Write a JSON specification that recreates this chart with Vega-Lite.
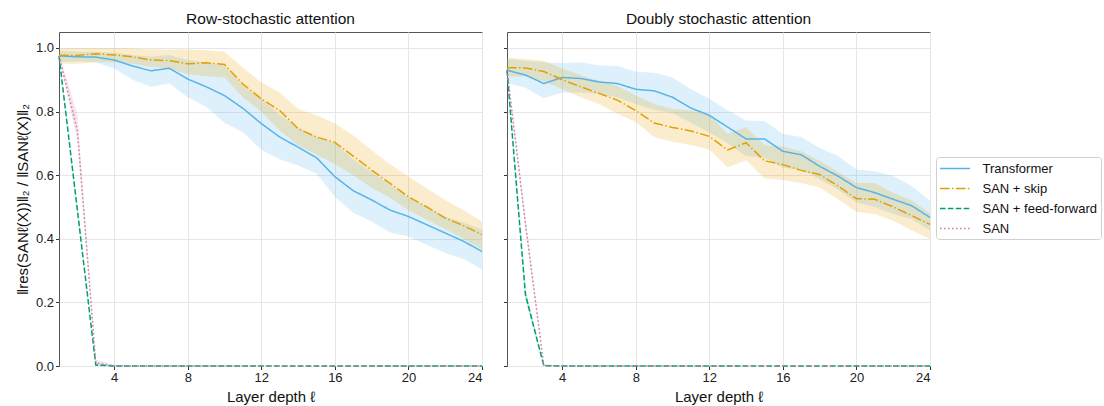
{
  "$schema": "https://vega.github.io/schema/vega-lite/v6.json",
  "background": "white",
  "padding": {"left": 14, "top": 11, "right": 0, "bottom": 0},
  "spacing": 16,
  "config": {
    "font": "Liberation Sans",
    "view": {"stroke": "#555", "strokeWidth": 1},
    "axis": {"domain": false, "tickColor": "#333", "tickSize": 3.5, "labelFontSize": 13, "labelColor": "#222", "titleFontSize": 15, "titleFontWeight": "normal", "titleColor": "#111", "gridColor": "#e6e6e6", "labelPadding": 2},
    "title": {"fontSize": 15.5, "fontWeight": "normal", "offset": 5, "color": "#111"},
    "legend": {"symbolType": "M-2,0H2", "symbolSize": 225, "symbolOffset": 7.5, "symbolStrokeWidth": 1.5, "labelFontSize": 13, "labelColor": "#111", "strokeColor": "#d0d0d0", "cornerRadius": 3, "padding": 3, "rowPadding": 4, "labelOffset": 19, "fillColor": "white"}
  },
  "resolve": {"scale": {"color": "shared", "strokeDash": "shared"}},
  "datasets": {
    "d": [
      {"panel":"Row","series":"Transformer","x":1,"y":0.975,"lo":0.955,"hi":0.990},
      {"panel":"Row","series":"Transformer","x":2,"y":0.972,"lo":0.958,"hi":0.988},
      {"panel":"Row","series":"Transformer","x":3,"y":0.971,"lo":0.955,"hi":0.987},
      {"panel":"Row","series":"Transformer","x":4,"y":0.962,"lo":0.935,"hi":0.985},
      {"panel":"Row","series":"Transformer","x":5,"y":0.943,"lo":0.900,"hi":0.978},
      {"panel":"Row","series":"Transformer","x":6,"y":0.928,"lo":0.878,"hi":0.972},
      {"panel":"Row","series":"Transformer","x":7,"y":0.936,"lo":0.888,"hi":0.978},
      {"panel":"Row","series":"Transformer","x":8,"y":0.902,"lo":0.845,"hi":0.962},
      {"panel":"Row","series":"Transformer","x":9,"y":0.878,"lo":0.815,"hi":0.955},
      {"panel":"Row","series":"Transformer","x":10,"y":0.850,"lo":0.765,"hi":0.945},
      {"panel":"Row","series":"Transformer","x":11,"y":0.810,"lo":0.735,"hi":0.880},
      {"panel":"Row","series":"Transformer","x":12,"y":0.762,"lo":0.680,"hi":0.840},
      {"panel":"Row","series":"Transformer","x":13,"y":0.720,"lo":0.650,"hi":0.790},
      {"panel":"Row","series":"Transformer","x":14,"y":0.688,"lo":0.630,"hi":0.750},
      {"panel":"Row","series":"Transformer","x":15,"y":0.655,"lo":0.605,"hi":0.720},
      {"panel":"Row","series":"Transformer","x":16,"y":0.595,"lo":0.532,"hi":0.700},
      {"panel":"Row","series":"Transformer","x":17,"y":0.551,"lo":0.482,"hi":0.650},
      {"panel":"Row","series":"Transformer","x":18,"y":0.522,"lo":0.454,"hi":0.610},
      {"panel":"Row","series":"Transformer","x":19,"y":0.490,"lo":0.420,"hi":0.570},
      {"panel":"Row","series":"Transformer","x":20,"y":0.470,"lo":0.407,"hi":0.530},
      {"panel":"Row","series":"Transformer","x":21,"y":0.444,"lo":0.381,"hi":0.500},
      {"panel":"Row","series":"Transformer","x":22,"y":0.418,"lo":0.355,"hi":0.470},
      {"panel":"Row","series":"Transformer","x":23,"y":0.392,"lo":0.336,"hi":0.450},
      {"panel":"Row","series":"Transformer","x":24,"y":0.360,"lo":0.303,"hi":0.430},
      {"panel":"Row","series":"SAN + skip","x":1,"y":0.977,"lo":0.950,"hi":0.998},
      {"panel":"Row","series":"SAN + skip","x":2,"y":0.976,"lo":0.950,"hi":1.000},
      {"panel":"Row","series":"SAN + skip","x":3,"y":0.982,"lo":0.955,"hi":1.000},
      {"panel":"Row","series":"SAN + skip","x":4,"y":0.978,"lo":0.955,"hi":1.000},
      {"panel":"Row","series":"SAN + skip","x":5,"y":0.972,"lo":0.950,"hi":0.998},
      {"panel":"Row","series":"SAN + skip","x":6,"y":0.962,"lo":0.940,"hi":0.995},
      {"panel":"Row","series":"SAN + skip","x":7,"y":0.960,"lo":0.935,"hi":0.995},
      {"panel":"Row","series":"SAN + skip","x":8,"y":0.950,"lo":0.917,"hi":0.995},
      {"panel":"Row","series":"SAN + skip","x":9,"y":0.953,"lo":0.912,"hi":0.993},
      {"panel":"Row","series":"SAN + skip","x":10,"y":0.948,"lo":0.907,"hi":0.988},
      {"panel":"Row","series":"SAN + skip","x":11,"y":0.886,"lo":0.845,"hi":0.938},
      {"panel":"Row","series":"SAN + skip","x":12,"y":0.840,"lo":0.800,"hi":0.891},
      {"panel":"Row","series":"SAN + skip","x":13,"y":0.803,"lo":0.740,"hi":0.860},
      {"panel":"Row","series":"SAN + skip","x":14,"y":0.746,"lo":0.694,"hi":0.808},
      {"panel":"Row","series":"SAN + skip","x":15,"y":0.720,"lo":0.665,"hi":0.788},
      {"panel":"Row","series":"SAN + skip","x":16,"y":0.703,"lo":0.635,"hi":0.762},
      {"panel":"Row","series":"SAN + skip","x":17,"y":0.660,"lo":0.600,"hi":0.725},
      {"panel":"Row","series":"SAN + skip","x":18,"y":0.616,"lo":0.560,"hi":0.678},
      {"panel":"Row","series":"SAN + skip","x":19,"y":0.574,"lo":0.530,"hi":0.634},
      {"panel":"Row","series":"SAN + skip","x":20,"y":0.532,"lo":0.490,"hi":0.595},
      {"panel":"Row","series":"SAN + skip","x":21,"y":0.500,"lo":0.460,"hi":0.558},
      {"panel":"Row","series":"SAN + skip","x":22,"y":0.465,"lo":0.430,"hi":0.522},
      {"panel":"Row","series":"SAN + skip","x":23,"y":0.441,"lo":0.400,"hi":0.490},
      {"panel":"Row","series":"SAN + skip","x":24,"y":0.413,"lo":0.366,"hi":0.454},
      {"panel":"Row","series":"SAN + feed-forward","x":1,"y":0.975,"lo":0.968,"hi":0.982},
      {"panel":"Row","series":"SAN + feed-forward","x":2,"y":0.490,"lo":0.480,"hi":0.500},
      {"panel":"Row","series":"SAN + feed-forward","x":3,"y":0.003,"lo":0.0,"hi":0.006},
      {"panel":"Row","series":"SAN + feed-forward","x":4,"y":0,"lo":0,"hi":0},
      {"panel":"Row","series":"SAN + feed-forward","x":5,"y":0,"lo":0,"hi":0},
      {"panel":"Row","series":"SAN + feed-forward","x":6,"y":0,"lo":0,"hi":0},
      {"panel":"Row","series":"SAN + feed-forward","x":7,"y":0,"lo":0,"hi":0},
      {"panel":"Row","series":"SAN + feed-forward","x":8,"y":0,"lo":0,"hi":0},
      {"panel":"Row","series":"SAN + feed-forward","x":9,"y":0,"lo":0,"hi":0},
      {"panel":"Row","series":"SAN + feed-forward","x":10,"y":0,"lo":0,"hi":0},
      {"panel":"Row","series":"SAN + feed-forward","x":11,"y":0,"lo":0,"hi":0},
      {"panel":"Row","series":"SAN + feed-forward","x":12,"y":0,"lo":0,"hi":0},
      {"panel":"Row","series":"SAN + feed-forward","x":13,"y":0,"lo":0,"hi":0},
      {"panel":"Row","series":"SAN + feed-forward","x":14,"y":0,"lo":0,"hi":0},
      {"panel":"Row","series":"SAN + feed-forward","x":15,"y":0,"lo":0,"hi":0},
      {"panel":"Row","series":"SAN + feed-forward","x":16,"y":0,"lo":0,"hi":0},
      {"panel":"Row","series":"SAN + feed-forward","x":17,"y":0,"lo":0,"hi":0},
      {"panel":"Row","series":"SAN + feed-forward","x":18,"y":0,"lo":0,"hi":0},
      {"panel":"Row","series":"SAN + feed-forward","x":19,"y":0,"lo":0,"hi":0},
      {"panel":"Row","series":"SAN + feed-forward","x":20,"y":0,"lo":0,"hi":0},
      {"panel":"Row","series":"SAN + feed-forward","x":21,"y":0,"lo":0,"hi":0},
      {"panel":"Row","series":"SAN + feed-forward","x":22,"y":0,"lo":0,"hi":0},
      {"panel":"Row","series":"SAN + feed-forward","x":23,"y":0,"lo":0,"hi":0},
      {"panel":"Row","series":"SAN + feed-forward","x":24,"y":0,"lo":0,"hi":0},
      {"panel":"Row","series":"SAN","x":1,"y":0.975,"lo":0.968,"hi":0.982},
      {"panel":"Row","series":"SAN","x":2,"y":0.740,"lo":0.710,"hi":0.790},
      {"panel":"Row","series":"SAN","x":3,"y":0.010,"lo":0.004,"hi":0.020},
      {"panel":"Row","series":"SAN","x":4,"y":0.001,"lo":0,"hi":0.003},
      {"panel":"Row","series":"SAN","x":5,"y":0,"lo":0,"hi":0},
      {"panel":"Row","series":"SAN","x":6,"y":0,"lo":0,"hi":0},
      {"panel":"Row","series":"SAN","x":7,"y":0,"lo":0,"hi":0},
      {"panel":"Row","series":"SAN","x":8,"y":0,"lo":0,"hi":0},
      {"panel":"Row","series":"SAN","x":9,"y":0,"lo":0,"hi":0},
      {"panel":"Row","series":"SAN","x":10,"y":0,"lo":0,"hi":0},
      {"panel":"Row","series":"SAN","x":11,"y":0,"lo":0,"hi":0},
      {"panel":"Row","series":"SAN","x":12,"y":0,"lo":0,"hi":0},
      {"panel":"Row","series":"SAN","x":13,"y":0,"lo":0,"hi":0},
      {"panel":"Row","series":"SAN","x":14,"y":0,"lo":0,"hi":0},
      {"panel":"Row","series":"SAN","x":15,"y":0,"lo":0,"hi":0},
      {"panel":"Row","series":"SAN","x":16,"y":0,"lo":0,"hi":0},
      {"panel":"Row","series":"SAN","x":17,"y":0,"lo":0,"hi":0},
      {"panel":"Row","series":"SAN","x":18,"y":0,"lo":0,"hi":0},
      {"panel":"Row","series":"SAN","x":19,"y":0,"lo":0,"hi":0},
      {"panel":"Row","series":"SAN","x":20,"y":0,"lo":0,"hi":0},
      {"panel":"Row","series":"SAN","x":21,"y":0,"lo":0,"hi":0},
      {"panel":"Row","series":"SAN","x":22,"y":0,"lo":0,"hi":0},
      {"panel":"Row","series":"SAN","x":23,"y":0,"lo":0,"hi":0},
      {"panel":"Row","series":"SAN","x":24,"y":0,"lo":0,"hi":0},
      {"panel":"Doubly","series":"Transformer","x":1,"y":0.930,"lo":0.890,"hi":0.965},
      {"panel":"Doubly","series":"Transformer","x":2,"y":0.915,"lo":0.875,"hi":0.960},
      {"panel":"Doubly","series":"Transformer","x":3,"y":0.888,"lo":0.842,"hi":0.955},
      {"panel":"Doubly","series":"Transformer","x":4,"y":0.907,"lo":0.860,"hi":0.952},
      {"panel":"Doubly","series":"Transformer","x":5,"y":0.904,"lo":0.860,"hi":0.955},
      {"panel":"Doubly","series":"Transformer","x":6,"y":0.893,"lo":0.855,"hi":0.945},
      {"panel":"Doubly","series":"Transformer","x":7,"y":0.888,"lo":0.845,"hi":0.943},
      {"panel":"Doubly","series":"Transformer","x":8,"y":0.870,"lo":0.824,"hi":0.925},
      {"panel":"Doubly","series":"Transformer","x":9,"y":0.865,"lo":0.805,"hi":0.922},
      {"panel":"Doubly","series":"Transformer","x":10,"y":0.845,"lo":0.795,"hi":0.907},
      {"panel":"Doubly","series":"Transformer","x":11,"y":0.811,"lo":0.765,"hi":0.870},
      {"panel":"Doubly","series":"Transformer","x":12,"y":0.788,"lo":0.735,"hi":0.840},
      {"panel":"Doubly","series":"Transformer","x":13,"y":0.751,"lo":0.700,"hi":0.803},
      {"panel":"Doubly","series":"Transformer","x":14,"y":0.714,"lo":0.660,"hi":0.772},
      {"panel":"Doubly","series":"Transformer","x":15,"y":0.714,"lo":0.655,"hi":0.770},
      {"panel":"Doubly","series":"Transformer","x":16,"y":0.675,"lo":0.623,"hi":0.730},
      {"panel":"Doubly","series":"Transformer","x":17,"y":0.664,"lo":0.618,"hi":0.720},
      {"panel":"Doubly","series":"Transformer","x":18,"y":0.628,"lo":0.587,"hi":0.685},
      {"panel":"Doubly","series":"Transformer","x":19,"y":0.597,"lo":0.555,"hi":0.660},
      {"panel":"Doubly","series":"Transformer","x":20,"y":0.561,"lo":0.514,"hi":0.618},
      {"panel":"Doubly","series":"Transformer","x":21,"y":0.545,"lo":0.500,"hi":0.612},
      {"panel":"Doubly","series":"Transformer","x":22,"y":0.524,"lo":0.478,"hi":0.597},
      {"panel":"Doubly","series":"Transformer","x":23,"y":0.504,"lo":0.462,"hi":0.566},
      {"panel":"Doubly","series":"Transformer","x":24,"y":0.467,"lo":0.426,"hi":0.520},
      {"panel":"Doubly","series":"SAN + skip","x":1,"y":0.938,"lo":0.910,"hi":0.970},
      {"panel":"Doubly","series":"SAN + skip","x":2,"y":0.937,"lo":0.910,"hi":0.965},
      {"panel":"Doubly","series":"SAN + skip","x":3,"y":0.926,"lo":0.895,"hi":0.960},
      {"panel":"Doubly","series":"SAN + skip","x":4,"y":0.900,"lo":0.870,"hi":0.935},
      {"panel":"Doubly","series":"SAN + skip","x":5,"y":0.878,"lo":0.845,"hi":0.915},
      {"panel":"Doubly","series":"SAN + skip","x":6,"y":0.857,"lo":0.824,"hi":0.896},
      {"panel":"Doubly","series":"SAN + skip","x":7,"y":0.836,"lo":0.793,"hi":0.880},
      {"panel":"Doubly","series":"SAN + skip","x":8,"y":0.803,"lo":0.767,"hi":0.850},
      {"panel":"Doubly","series":"SAN + skip","x":9,"y":0.764,"lo":0.720,"hi":0.824},
      {"panel":"Doubly","series":"SAN + skip","x":10,"y":0.750,"lo":0.705,"hi":0.808},
      {"panel":"Doubly","series":"SAN + skip","x":11,"y":0.739,"lo":0.695,"hi":0.803},
      {"panel":"Doubly","series":"SAN + skip","x":12,"y":0.722,"lo":0.680,"hi":0.790},
      {"panel":"Doubly","series":"SAN + skip","x":13,"y":0.679,"lo":0.625,"hi":0.730},
      {"panel":"Doubly","series":"SAN + skip","x":14,"y":0.702,"lo":0.647,"hi":0.751},
      {"panel":"Doubly","series":"SAN + skip","x":15,"y":0.645,"lo":0.590,"hi":0.694},
      {"panel":"Doubly","series":"SAN + skip","x":16,"y":0.633,"lo":0.585,"hi":0.690},
      {"panel":"Doubly","series":"SAN + skip","x":17,"y":0.615,"lo":0.575,"hi":0.675},
      {"panel":"Doubly","series":"SAN + skip","x":18,"y":0.602,"lo":0.561,"hi":0.645},
      {"panel":"Doubly","series":"SAN + skip","x":19,"y":0.566,"lo":0.524,"hi":0.610},
      {"panel":"Doubly","series":"SAN + skip","x":20,"y":0.526,"lo":0.485,"hi":0.575},
      {"panel":"Doubly","series":"SAN + skip","x":21,"y":0.524,"lo":0.478,"hi":0.575},
      {"panel":"Doubly","series":"SAN + skip","x":22,"y":0.500,"lo":0.457,"hi":0.545},
      {"panel":"Doubly","series":"SAN + skip","x":23,"y":0.473,"lo":0.426,"hi":0.520},
      {"panel":"Doubly","series":"SAN + skip","x":24,"y":0.445,"lo":0.400,"hi":0.480},
      {"panel":"Doubly","series":"SAN + feed-forward","x":1,"y":0.930,"lo":0.920,"hi":0.940},
      {"panel":"Doubly","series":"SAN + feed-forward","x":2,"y":0.225,"lo":0.210,"hi":0.245},
      {"panel":"Doubly","series":"SAN + feed-forward","x":3,"y":0.001,"lo":0,"hi":0.003},
      {"panel":"Doubly","series":"SAN + feed-forward","x":4,"y":0,"lo":0,"hi":0},
      {"panel":"Doubly","series":"SAN + feed-forward","x":5,"y":0,"lo":0,"hi":0},
      {"panel":"Doubly","series":"SAN + feed-forward","x":6,"y":0,"lo":0,"hi":0},
      {"panel":"Doubly","series":"SAN + feed-forward","x":7,"y":0,"lo":0,"hi":0},
      {"panel":"Doubly","series":"SAN + feed-forward","x":8,"y":0,"lo":0,"hi":0},
      {"panel":"Doubly","series":"SAN + feed-forward","x":9,"y":0,"lo":0,"hi":0},
      {"panel":"Doubly","series":"SAN + feed-forward","x":10,"y":0,"lo":0,"hi":0},
      {"panel":"Doubly","series":"SAN + feed-forward","x":11,"y":0,"lo":0,"hi":0},
      {"panel":"Doubly","series":"SAN + feed-forward","x":12,"y":0,"lo":0,"hi":0},
      {"panel":"Doubly","series":"SAN + feed-forward","x":13,"y":0,"lo":0,"hi":0},
      {"panel":"Doubly","series":"SAN + feed-forward","x":14,"y":0,"lo":0,"hi":0},
      {"panel":"Doubly","series":"SAN + feed-forward","x":15,"y":0,"lo":0,"hi":0},
      {"panel":"Doubly","series":"SAN + feed-forward","x":16,"y":0,"lo":0,"hi":0},
      {"panel":"Doubly","series":"SAN + feed-forward","x":17,"y":0,"lo":0,"hi":0},
      {"panel":"Doubly","series":"SAN + feed-forward","x":18,"y":0,"lo":0,"hi":0},
      {"panel":"Doubly","series":"SAN + feed-forward","x":19,"y":0,"lo":0,"hi":0},
      {"panel":"Doubly","series":"SAN + feed-forward","x":20,"y":0,"lo":0,"hi":0},
      {"panel":"Doubly","series":"SAN + feed-forward","x":21,"y":0,"lo":0,"hi":0},
      {"panel":"Doubly","series":"SAN + feed-forward","x":22,"y":0,"lo":0,"hi":0},
      {"panel":"Doubly","series":"SAN + feed-forward","x":23,"y":0,"lo":0,"hi":0},
      {"panel":"Doubly","series":"SAN + feed-forward","x":24,"y":0,"lo":0,"hi":0},
      {"panel":"Doubly","series":"SAN","x":1,"y":0.930,"lo":0.920,"hi":0.940},
      {"panel":"Doubly","series":"SAN","x":2,"y":0.450,"lo":0.430,"hi":0.470},
      {"panel":"Doubly","series":"SAN","x":3,"y":0.002,"lo":0,"hi":0.005},
      {"panel":"Doubly","series":"SAN","x":4,"y":0,"lo":0,"hi":0},
      {"panel":"Doubly","series":"SAN","x":5,"y":0,"lo":0,"hi":0},
      {"panel":"Doubly","series":"SAN","x":6,"y":0,"lo":0,"hi":0},
      {"panel":"Doubly","series":"SAN","x":7,"y":0,"lo":0,"hi":0},
      {"panel":"Doubly","series":"SAN","x":8,"y":0,"lo":0,"hi":0},
      {"panel":"Doubly","series":"SAN","x":9,"y":0,"lo":0,"hi":0},
      {"panel":"Doubly","series":"SAN","x":10,"y":0,"lo":0,"hi":0},
      {"panel":"Doubly","series":"SAN","x":11,"y":0,"lo":0,"hi":0},
      {"panel":"Doubly","series":"SAN","x":12,"y":0,"lo":0,"hi":0},
      {"panel":"Doubly","series":"SAN","x":13,"y":0,"lo":0,"hi":0},
      {"panel":"Doubly","series":"SAN","x":14,"y":0,"lo":0,"hi":0},
      {"panel":"Doubly","series":"SAN","x":15,"y":0,"lo":0,"hi":0},
      {"panel":"Doubly","series":"SAN","x":16,"y":0,"lo":0,"hi":0},
      {"panel":"Doubly","series":"SAN","x":17,"y":0,"lo":0,"hi":0},
      {"panel":"Doubly","series":"SAN","x":18,"y":0,"lo":0,"hi":0},
      {"panel":"Doubly","series":"SAN","x":19,"y":0,"lo":0,"hi":0},
      {"panel":"Doubly","series":"SAN","x":20,"y":0,"lo":0,"hi":0},
      {"panel":"Doubly","series":"SAN","x":21,"y":0,"lo":0,"hi":0},
      {"panel":"Doubly","series":"SAN","x":22,"y":0,"lo":0,"hi":0},
      {"panel":"Doubly","series":"SAN","x":23,"y":0,"lo":0,"hi":0},
      {"panel":"Doubly","series":"SAN","x":24,"y":0,"lo":0,"hi":0}
    ]
  },
  "data": {"name": "d"},
  "hconcat": [
    {
      "width": 423, "height": 334,
      "title": {"text": "Row-stochastic attention", "fontSize": 15.5, "fontWeight": "normal", "offset": 5},
      "transform": [{"filter": "datum.panel === 'Row'"}],
      "encoding": {
        "x": {"field": "x", "type": "quantitative", "scale": {"domain": [1, 24], "nice": false, "zero": false}, "axis": {"values": [4, 8, 12, 16, 20, 24], "title": "Layer depth ℓ", "titlePadding": 5}}
      },
      "layer": [
        {
          "mark": {"type": "area", "opacity": 0.2},
          "encoding": {
            "y": {"field": "lo", "type": "quantitative", "scale": {"domain": [0, 1.05], "nice": false}, "axis": {"values": [0, 0.2, 0.4, 0.6, 0.8, 1.0], "format": ".1f", "title": "‖res(SANℓ(X))‖₂  /  ‖SANℓ(X)‖₂", "titlePadding": 5}},
            "y2": {"field": "hi"},
            "fill": {"field": "series", "type": "nominal", "scale": {"domain": ["SAN", "SAN + feed-forward", "SAN + skip", "Transformer"], "range": ["#CC79A7", "#009E73", "#E69F00", "#56B4E9"]}, "legend": null}
          }
        },
        {
          "mark": {"type": "line", "strokeWidth": 1.5},
          "encoding": {
            "y": {"field": "y", "type": "quantitative", "scale": {"domain": [0, 1.05], "nice": false}, "axis": {"values": [0, 0.2, 0.4, 0.6, 0.8, 1.0], "format": ".1f", "title": "‖res(SANℓ(X))‖₂  /  ‖SANℓ(X)‖₂", "titlePadding": 5}},
            "color": {"field": "series", "type": "nominal", "scale": {"domain": ["Transformer", "SAN + skip", "SAN + feed-forward", "SAN"], "range": ["#56B4E9", "#E69F00", "#009E73", "#CC79A7"]}, "legend": {"title": null, "orient": "none", "legendX": 877, "legendY": 125}},
            "strokeDash": {"field": "series", "type": "nominal", "scale": {"domain": ["Transformer", "SAN + skip", "SAN + feed-forward", "SAN"], "range": [[1, 0], [9.6, 2.4, 1.5, 2.4], [5.5, 2.4], [1.5, 2.5]]}, "legend": {"title": null, "orient": "none", "legendX": 877, "legendY": 125}}
          }
        }
      ]
    },
    {
      "width": 423, "height": 334,
      "title": {"text": "Doubly stochastic attention", "fontSize": 15.5, "fontWeight": "normal", "offset": 5},
      "transform": [{"filter": "datum.panel === 'Doubly'"}],
      "encoding": {
        "x": {"field": "x", "type": "quantitative", "scale": {"domain": [1, 24], "nice": false, "zero": false}, "axis": {"values": [4, 8, 12, 16, 20, 24], "title": "Layer depth ℓ", "titlePadding": 5}}
      },
      "layer": [
        {
          "mark": {"type": "area", "opacity": 0.2},
          "encoding": {
            "y": {"field": "lo", "type": "quantitative", "scale": {"domain": [0, 1.05], "nice": false}, "axis": {"values": [0, 0.2, 0.4, 0.6, 0.8, 1.0], "labels": false, "title": null}},
            "y2": {"field": "hi"},
            "fill": {"field": "series", "type": "nominal", "scale": {"domain": ["SAN", "SAN + feed-forward", "SAN + skip", "Transformer"], "range": ["#CC79A7", "#009E73", "#E69F00", "#56B4E9"]}, "legend": null}
          }
        },
        {
          "mark": {"type": "line", "strokeWidth": 1.5},
          "encoding": {
            "y": {"field": "y", "type": "quantitative", "scale": {"domain": [0, 1.05], "nice": false}, "axis": {"values": [0, 0.2, 0.4, 0.6, 0.8, 1.0], "labels": false, "title": null}},
            "color": {"field": "series", "type": "nominal", "scale": {"domain": ["Transformer", "SAN + skip", "SAN + feed-forward", "SAN"], "range": ["#56B4E9", "#E69F00", "#009E73", "#CC79A7"]}, "legend": {"title": null, "orient": "none", "legendX": 877, "legendY": 125}},
            "strokeDash": {"field": "series", "type": "nominal", "scale": {"domain": ["Transformer", "SAN + skip", "SAN + feed-forward", "SAN"], "range": [[1, 0], [9.6, 2.4, 1.5, 2.4], [5.5, 2.4], [1.5, 2.5]]}, "legend": {"title": null, "orient": "none", "legendX": 877, "legendY": 125}}
          }
        }
      ]
    }
  ]
}
